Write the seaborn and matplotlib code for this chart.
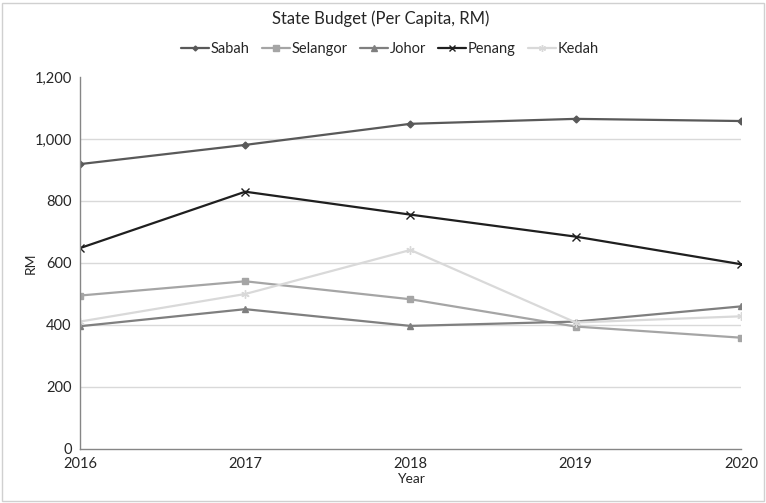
import matplotlib
matplotlib.use("Agg")
import matplotlib.pyplot as plt
from matplotlib.patches import Rectangle
from matplotlib.lines import Line2D
from matplotlib.ticker import FuncFormatter
import seaborn as sns
import pandas as pd

years = [2016, 2017, 2018, 2019, 2020]
sabah = [919, 981, 1049, 1065, 1058]
selangor = [495, 541, 483, 395, 359]
johor = [396, 451, 397, 411, 460]
penang = [648, 830, 756, 685, 596]
kedah = [411, 500, 642, 408, 428]

states = ["Sabah", "Selangor", "Johor", "Penang", "Kedah"]
series = [sabah, selangor, johor, penang, kedah]

rows = []
for name, vals in zip(states, series):
    for yr, v in zip(years, vals):
        rows.append({"Year": yr, "RM": v, "State": name})
df = pd.DataFrame(rows)

sns.set_theme(style="white")
plt.rcParams["font.family"] = ["Lato", "DejaVu Sans"]

palette = {"Sabah": "#595959", "Selangor": "#a5a5a5", "Johor": "#7f7f7f",
           "Penang": "#1f1f1f", "Kedah": "#d9d9d9"}
markers = {"Sabah": "D", "Selangor": "s", "Johor": "^", "Penang": "x", "Kedah": (6, 2, 0)}
msizes = {"Sabah": 3.5, "Selangor": 5, "Johor": 5, "Penang": 6, "Kedah": 6}

fig = plt.figure(figsize=(7.66, 5.03), dpi=100)
ax = fig.add_axes([0.1044, 0.1074, 0.8630, 0.7395])

# one call per state so filled and line-art markers can be mixed
for name in states:
    sub = df[df["State"] == name]
    sns.lineplot(data=sub, x="Year", y="RM", color=palette[name],
                 marker=markers[name], markersize=msizes[name],
                 markeredgewidth=1.0, markeredgecolor=palette[name],
                 markerfacecolor=palette[name], linewidth=1.6, ax=ax,
                 legend=False)

ax.set_xlim(2016, 2020)
ax.set_ylim(0, 1200)
ax.set_xticks(years)
ax.set_yticks(range(0, 1201, 200))
ax.yaxis.set_major_formatter(FuncFormatter(lambda v, p: f"{int(v):,}"))
ax.tick_params(axis="both", length=0, labelsize=10.5, colors="#262626", pad=6)
ax.tick_params(axis="x", pad=6)

ax.yaxis.grid(True, color="#d9d9d9", linewidth=1)
ax.xaxis.grid(False)
ax.set_axisbelow(True)
gl = ax.get_ygridlines()
gl[-1].set_visible(False)
gl[0].set_visible(False)

for s in ["top", "right"]:
    ax.spines[s].set_visible(False)
for s in ["left", "bottom"]:
    ax.spines[s].set_color("#868686")
    ax.spines[s].set_linewidth(1)

ax.set_xlabel("Year", fontsize=10, color="#262626", labelpad=1)
ax.set_ylabel("RM", fontsize=10, color="#262626", labelpad=-2)

fig.text(0.497, 0.962, "State Budget (Per Capita, RM)", ha="center", va="center",
         fontsize=12, color="#262626")

handles = [Line2D([0], [0], color=palette[n], marker=markers[n], markersize=msizes[n] - 1,
                  markerfacecolor=palette[n], markeredgecolor=palette[n], linewidth=1.6)
           for n in states]
fig.legend(handles, states, loc="center", bbox_to_anchor=(0.509, 0.902), ncol=5,
           frameon=False, fontsize=10.5, handlelength=1.9, handletextpad=0.12,
           columnspacing=0.85, labelcolor="#262626")

fig.add_artist(Rectangle((0.003, 0.004), 0.994, 0.991, transform=fig.transFigure,
                         fill=False, edgecolor="#d0d0d0", linewidth=1))

fig.savefig("out.png", dpi=100)
